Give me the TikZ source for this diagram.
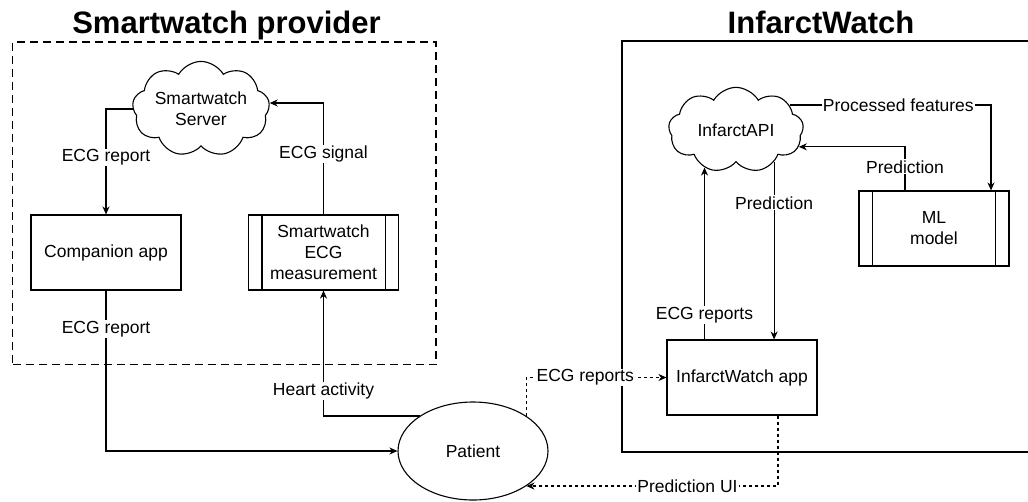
\documentclass[tikz,border=0pt]{standalone}
\usepackage{fontspec}
\setmainfont{Liberation Sans}
\usetikzlibrary{arrows.meta, shapes.symbols, shapes.geometric}

\begin{document}
\begin{tikzpicture}[
    x=1pt, y=-1pt,
    every node/.style = {font=\fontsize{17.5}{21}\selectfont},
    box/.style    = {draw=black, fill=white, line width=1.1pt, align=center,
                     inner sep=2pt, minimum width=150pt, minimum height=75pt},
    cloudy/.style = {cloud, cloud puffs=9, cloud puff arc=120, draw=black, fill=white,
                     line width=1.1pt, align=center, inner sep=0pt},
    group/.style  = {draw=black, line width=1.1pt, inner sep=0pt},
    title/.style  = {font=\fontsize{31}{36}\selectfont\bfseries, anchor=base},
    flow/.style   = {-{Stealth[length=8pt, width=7pt, inset=2.5pt]}, draw=black, line width=1.1pt},
    link/.style   = {flow, dash pattern=on 3pt off 3pt},
    lbl/.style    = {fill=white, inner sep=1pt},
  ]
  \useasboundingbox (0,0) rectangle (1028,501);
  \clip (0,0) rectangle (1028,501);

  % the two sides
  \node[group, dash pattern=on 8pt off 5pt, minimum width=423.5pt, minimum height=322.5pt]
      (swp) at (224.25,203.25) {};
  \node[group, minimum width=418pt, minimum height=411pt] (iwp) at (831,246.5) {};
  \node[title] (swptitle) at (226.5,33) {Smartwatch provider};
  \node[title] (iwptitle) at (821,33) {InfarctWatch};

  \node[cloudy, aspect=1.77, minimum width=136pt, minimum height=77pt] (srv) at (201,109) {Smartwatch\\Server};
  \node[box] (comp) at (106,252.5) {Companion app};
  \node[box] (meas) at (323.5,252.5) {Smartwatch\\ECG\\measurement};
  \node[ellipse, draw=black, fill=white, line width=1.1pt, minimum width=150pt,
        minimum height=98pt, inner sep=0pt] (pat) at (473,451) {Patient};
  \node[cloudy, aspect=1.6, minimum width=135pt, minimum height=84pt] (api) at (736,130) {InfarctAPI};
  \node[box] (ml) at (934,228.5) {ML\\model};
  \node[box] (app) at (742,377.5) {InfarctWatch app};

  \foreach \n in {meas, ml}
    \draw[line width=1.1pt] ([xshift=14pt]\n.north west) -- ([xshift=14pt]\n.south west)
                            ([xshift=-14pt]\n.north east) -- ([xshift=-14pt]\n.south east);

  % smartwatch provider
  \draw[flow] (srv.west) -| (comp.north) node[lbl, pos=0.73] {ECG report};
  \draw[flow] (meas.north) |- (srv.5) node[lbl, pos=0.27] {ECG signal};
  \draw[flow] (comp.south) |- (pat.west) node[lbl, pos=0.12] {ECG report};
  \draw[flow] (pat.north west) -| (meas.south) node[lbl, pos=0.6] {Heart activity};

  % infarctwatch
  \draw[flow] (api.25) -| ([xshift=57pt]ml.north) node[lbl, pos=0.27] {Processed features};
  \draw[flow] ([xshift=-29pt]ml.north) |- (api.345) node[lbl, pos=0.27] {Prediction};
  \draw[flow] (app.north -| api.230) -- (api.230) node[lbl, pos=0.14] {ECG reports};
  \draw[flow] (api.320) -- (app.north -| api.320) node[lbl, pos=0.23] {Prediction};

  % between patient and app
  \draw[link] (pat.north east) |- (app.west) node[lbl, pos=0.71] {ECG reports};
  \draw[link] ([xshift=36pt]app.south) |- (pat.south east) node[lbl, pos=0.68] {Prediction UI};
\end{tikzpicture}
\end{document}
